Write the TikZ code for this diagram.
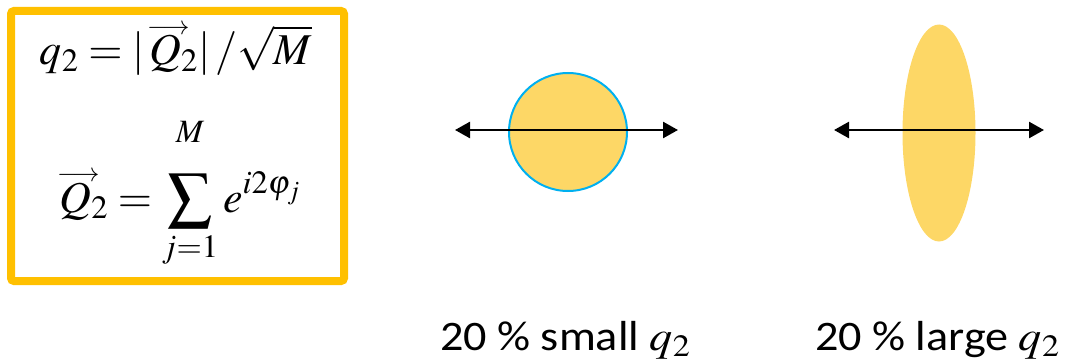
\documentclass[tikz,border=0pt]{standalone}
\usepackage{amsmath}
\usepackage{mathptmx}
\usepackage{fontspec}
\newfontfamily\labelfont{Carlito}
\usetikzlibrary{arrows.meta,positioning,shapes.geometric}
\definecolor{boxorange}{HTML}{FFC000}
\definecolor{disk}{HTML}{FDD766}
\definecolor{rimblue}{HTML}{00B0F0}
\newcommand{\vecQ}{\mathord{\ooalign{$Q$\cr\hidewidth\kern6pt\raisebox{31pt}{$\scriptscriptstyle\longrightarrow$}\hidewidth\cr}}}
\begin{document}
\begin{tikzpicture}[x=1pt,y=-1pt,
  frame/.style={draw=boxorange,line width=8pt,rounded corners=3pt},
  axis/.style={line width=2.5pt,{Triangle[length=15pt,width=16pt]}-{Triangle[length=15pt,width=16pt]}},
  formula/.style={font=\fontsize{44}{52}\selectfont,inner sep=0pt,anchor=base},
  caption/.style={font=\labelfont\fontsize{42}{50}\selectfont,anchor=base west,inner sep=0pt}]
  \useasboundingbox (0,0) rectangle (1076,361); % 画像全体の大きさ
  \draw[frame] (11,11) rectangle (344,281); % 式を囲むオレンジの枠
  \node[formula] (qdef) at (176,65) {$q_2=|\,\vecQ_2|\,/\sqrt{M}$}; % q2 の定義
  \node[formula] (Qdef) at (180,212) {$\displaystyle \vecQ_2=\sum_{j=1}^{\raisebox{22pt}{$\scriptstyle M$}}e^{i2\varphi_j}$}; % Q2 ベクトルの定義
  \node[circle,fill=disk,draw=rimblue,line width=2pt,minimum size=118pt,inner sep=0pt] (small) at (568,132) {}; % q2 が小さい場合（円形）
  \node[ellipse,fill=disk,minimum width=73pt,minimum height=217pt,inner sep=0pt] (large) at (939,133) {}; % q2 が大きい場合（縦長の楕円）
  \coordinate (smallL) at (455,130); % 左の矢印の端点
  \coordinate (smallR) at (678,130);
  \coordinate (largeL) at (834,130); % 右の矢印の端点
  \coordinate (largeR) at (1044,130);
  \draw[axis] (smallL) -- (smallR); % 円を貫く両矢印
  \draw[axis] (largeL) -- (largeR); % 楕円を貫く両矢印
  \node[caption] (smallcap) at (440,350) {\scalebox{1.1}[1]{20 \% small $q_2$}}; % 左の説明文
  \node[caption] (largecap) at (815,350) {\scalebox{1.1}[1]{20 \% large $q_2$}}; % 右の説明文
\end{tikzpicture}
\end{document}
